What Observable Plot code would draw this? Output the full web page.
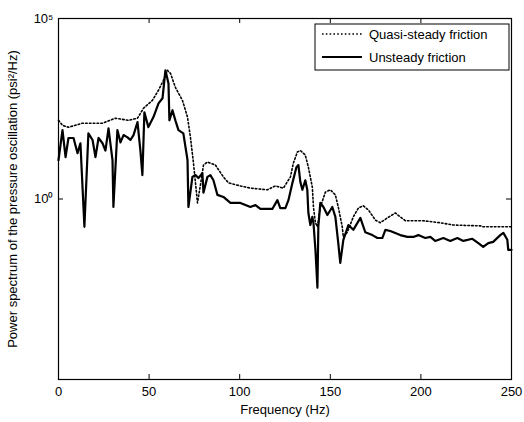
<!DOCTYPE html>
<html><head><meta charset="utf-8">
<script src="https://cdn.jsdelivr.net/npm/d3@7"></script>
<script src="https://cdn.jsdelivr.net/npm/@observablehq/plot@0.6"></script>
<style>body{margin:0;background:#fff;} #chart{position:relative;width:524px;height:422px;}</style>
</head><body><div id="chart"></div>
<script>
const quasiFreq = [0,2.2,5.5,13.2,24.3,31.4,38.6,43.6,46.9,51.8,55.2,57.9,60.1,61.8,64.5,68.4,71.2,72.8,74.5,76.7,78.3,80.0,82.2,86.6,91.0,93.8,100.4,105.9,115.3,119.7,124.1,128.0,129.6,131.8,133.5,136.2,137.9,140.1,140.7,141.8,142.9,144.5,147.3,150.0,152.8,154.4,156.6,157.2,159.4,162.7,165.5,168.2,171.0,174.9,177.6,181.5,185.9,188.6,191.4,201.3,210.7,217.9,232.8,234.4,250];
const quasiPower = [151,110,97,126,126,173,151,173,326,540,1030,1940,3660,3020,1240,540,185,52,9.8,0.78,2.4,8.7,10.6,8.7,4.1,2.8,2.3,2.0,1.8,2.3,2.0,4.1,9.8,20,22,16.5,7.6,2.1,0.60,0.22,0.17,0.60,1.55,1.8,1.3,0.60,0.17,0.089,0.12,0.32,0.56,0.65,0.50,0.26,0.22,0.30,0.41,0.32,0.25,0.25,0.22,0.19,0.18,0.17,0.17];
const unsteadyFreq = [0,2.2,3.9,5.5,8.3,10.5,12.1,14.3,16.5,18.8,20.4,22.1,24.3,25.9,27.6,29.8,30.3,32.5,34.2,35.9,38.1,39.7,41.4,43.6,45.2,46.3,47.4,49.6,52.4,55.2,57.4,59.0,60.7,61.2,62.9,64.5,66.2,68.9,71.2,71.7,73.9,75.6,77.2,79.4,80.0,82.2,83.8,85.5,87.7,91.0,94.9,100.4,104.2,105.9,108.7,111.4,118.0,120.8,122.4,125.2,126.9,129.1,131.3,132.4,133.5,134.6,136.2,137.3,137.9,139.0,140.1,140.7,141.8,142.9,143.4,144.5,146.2,148.4,151.1,152.8,154.4,155.5,157.2,160.0,162.7,166.6,169.3,173.2,176.0,178.7,180.4,183.1,188.6,192.5,195.8,198.6,202.4,205.2,207.9,212.4,216.2,220.1,223.4,228.4,231.7,234.4,237.2,239.9,243.8,245.5,247.7,248.2,250];
const unsteadyPower = [12,81,14.5,49,49,18.6,35,0.17,66,43,14.5,49,35,22,91,12,0.60,81,37,59,51,43,59,135,22,4.6,251,98,186,447,616,3660,1590,151,288,151,81,66,12,0.60,4.1,4.6,3.8,5.2,1.5,4.1,4.6,3.3,1.3,1.14,0.78,0.78,0.65,0.60,0.68,0.53,0.53,0.93,0.56,0.56,0.93,2.8,7.6,8.7,2.9,1.8,3.3,1.8,0.41,0.19,0.32,0.22,0.039,0.0035,0.17,0.78,0.60,0.36,0.60,0.32,0.060,0.017,0.074,0.19,0.14,0.30,0.12,0.10,0.083,0.083,0.14,0.13,0.10,0.089,0.089,0.10,0.083,0.089,0.069,0.083,0.069,0.083,0.069,0.079,0.060,0.047,0.060,0.065,0.10,0.115,0.074,0.039,0.039];
const xTicks = [0,50,100,150,200,250];
const yTicks = [1,1e5];
const yTickLabels = ["10⁰","10⁵"];
const seriesNames = ["Quasi-steady friction","Unsteady friction"];
const xLabel = "Frequency (Hz)";
const yLabel = "Power spectrum of the pressure oscillation (psi²/Hz)";

const quasi = quasiFreq.map((f,i)=>({f, p: quasiPower[i]}));
const unsteady = unsteadyFreq.map((f,i)=>({f, p: unsteadyPower[i]}));

const W=524,H=422,mt=18,mb=43,ml=58,mr=13;
const fw=W-ml-mr, fh=H-mt-mb;
const font = "Liberation Sans, Arial, Helvetica, sans-serif";
const plot = Plot.plot({
  width:W,height:H,marginTop:mt,marginBottom:mb,marginLeft:ml,marginRight:mr,
  style:{fontFamily:font,fontSize:"13px",color:"black",background:"white",overflow:"visible"},
  x:{domain:[0,250]},
  y:{type:"log",domain:[1e-5,1e5]},
  marks:[
    Plot.axisX(xTicks,{tickSize:0,tickPadding:7,fontSize:13,label:xLabel,labelAnchor:"center",labelArrow:"none",labelOffset:34}),
    Plot.axisY(yTicks,{tickSize:0,tickPadding:5,fontSize:13,tickFormat:d=>yTickLabels[yTicks.indexOf(d)],label:yLabel,labelAnchor:"center",labelArrow:"none",labelOffset:51}),
    Plot.tickX(xTicks,{x:d=>d,insetTop:fh-5,stroke:"black"}),
    Plot.tickX(xTicks,{x:d=>d,insetBottom:fh-5,stroke:"black"}),
    Plot.tickY(yTicks,{y:d=>d,insetRight:fw-5,stroke:"black"}),
    Plot.tickY(yTicks,{y:d=>d,insetLeft:fw-5,stroke:"black"}),
    Plot.line(quasi,{x:"f",y:"p",stroke:"black",strokeWidth:1.6,strokeDasharray:"1.6,2.2"}),
    Plot.line(unsteady,{x:"f",y:"p",stroke:"black",strokeWidth:2.2}),
    Plot.frame({stroke:"black",strokeWidth:1.2})
  ]
});
document.getElementById("chart").appendChild(plot);

// legend box inside the plot area (top right)
const svg = d3.select(plot);
const lg = svg.append("g").attr("font-family",font).attr("font-size",13).attr("text-anchor","start");
const bx = W-mr-196, by = mt+6, bw = 194, bh = 46;
lg.append("rect").attr("x",bx).attr("y",by).attr("width",bw).attr("height",bh).attr("fill","white").attr("stroke","black").attr("stroke-width",1);
seriesNames.forEach((name,i)=>{
  const yy = by + 10 + i*23;
  lg.append("line").attr("x1",bx+7).attr("x2",bx+47).attr("y1",yy).attr("y2",yy)
    .attr("stroke","black").attr("stroke-width",i===0?1.6:2.2).attr("stroke-dasharray",i===0?"1.6,2.2":null);
  lg.append("text").attr("x",bx+54).attr("y",yy).attr("dy","0.35em").attr("text-anchor","start").attr("fill","black").text(name);
});
</script></body></html>
